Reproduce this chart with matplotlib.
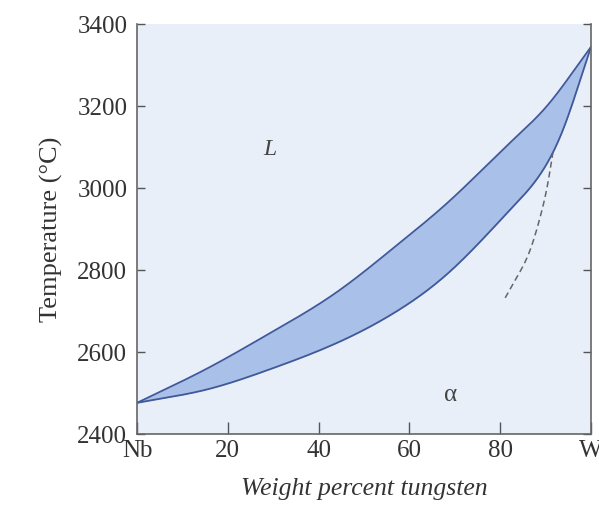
import matplotlib
matplotlib.use("Agg")
import matplotlib.pyplot as plt
import numpy as np

# Nb-W phase diagram
liq_w = [0, 14.8, 29.3, 44, 57.3, 68.3, 82.8, 90.3, 100]
liq_T = [2476, 2556, 2646, 2746, 2861, 2963, 3117, 3200, 3344]

sol_w = [0, 14.8, 29.3, 44, 57.3, 68.3, 82.8, 93.8, 100]
sol_T = [2476, 2507, 2558, 2622, 2700, 2790, 2954, 3141, 3344]

dash_w = [81.1, 83.7, 86.6, 88.8, 90.5, 91.6]
dash_T = [2732, 2783, 2849, 2929, 3012, 3085]

xticks = [0, 20, 40, 60, 80, 100]
xticklabels = ["Nb", "20", "40", "60", "80", "W"]
yticks = [2400, 2600, 2800, 3000, 3200, 3400]


def spline(x, y, xs):
    # clamped cubic spline through the read points (end slopes = end secants)
    x = np.asarray(x, float)
    y = np.asarray(y, float)
    n = len(x)
    h = np.diff(x)
    d = np.diff(y) / h
    A = np.zeros((n, n))
    b = np.zeros(n)
    A[0, 0], A[0, 1], b[0] = 2 * h[0], h[0], 6 * (d[0] - d[0])
    A[-1, -2], A[-1, -1], b[-1] = h[-1], 2 * h[-1], 6 * (d[-1] - d[-1])
    for i in range(1, n - 1):
        A[i, i - 1] = h[i - 1]
        A[i, i] = 2 * (h[i - 1] + h[i])
        A[i, i + 1] = h[i]
        b[i] = 6 * (d[i] - d[i - 1])
    M = np.linalg.solve(A, b)
    idx = np.clip(np.searchsorted(x, xs) - 1, 0, n - 2)
    x0, x1, hh = x[idx], x[idx + 1], h[idx]
    return (M[idx] * (x1 - xs) ** 3 / (6 * hh) + M[idx + 1] * (xs - x0) ** 3 / (6 * hh)
            + (y[idx] / hh - M[idx] * hh / 6) * (x1 - xs)
            + (y[idx + 1] / hh - M[idx + 1] * hh / 6) * (xs - x0))


plt.rcParams['font.family'] = ['Liberation Serif', 'DejaVu Serif']

fig = plt.figure(figsize=(5.99, 5.14), dpi=100)
ax = fig.add_axes([0.2287, 0.1556, 0.7579, 0.7977])

ax.set_facecolor("#e8eff9")
ax.set_xlim(0, 100)
ax.set_ylim(2400, 3400)

xs = np.linspace(0, 100, 400)
liq = spline(liq_w, liq_T, xs)
sol = spline(sol_w, sol_T, xs)
ax.fill_between(xs, sol, liq, color="#a9c1e8", lw=0)
ax.plot(xs, liq, color="#41589a", lw=1.3)
ax.plot(xs, sol, color="#41589a", lw=1.3)

ds = np.linspace(dash_w[0], dash_w[-1], 100)
ax.plot(ds, spline(dash_w, dash_T, ds), color="#666666", lw=1.1, ls=(0, (4, 2.5)))

ax.text(29.3, 3093, "L", fontsize=17, style="italic", color="#444444", ha="center", va="center")
ax.text(69, 2495, "α", fontsize=18, color="#444444", ha="center", va="center")

ax.set_xticks(xticks)
ax.set_xticklabels(xticklabels)
ax.set_yticks(yticks)
ax.tick_params(axis="both", direction="in", colors="#555555", labelcolor="#333333",
               labelsize=18, length=6, width=1)
ax.tick_params(axis="y", right=True, labelright=False, pad=7)
ax.tick_params(axis="x", length=9, pad=4)

for s in ["left", "bottom", "right"]:
    ax.spines[s].set_color("#666666")
    ax.spines[s].set_linewidth(1.2)
ax.spines["top"].set_visible(False)

ax.set_ylabel("Temperature (°C)", fontsize=19, color="#333333", labelpad=10)
ax.set_xlabel("Weight percent tungsten", fontsize=18.5, style="italic", color="#333333", labelpad=12)

fig.savefig("out.png", dpi=100)
